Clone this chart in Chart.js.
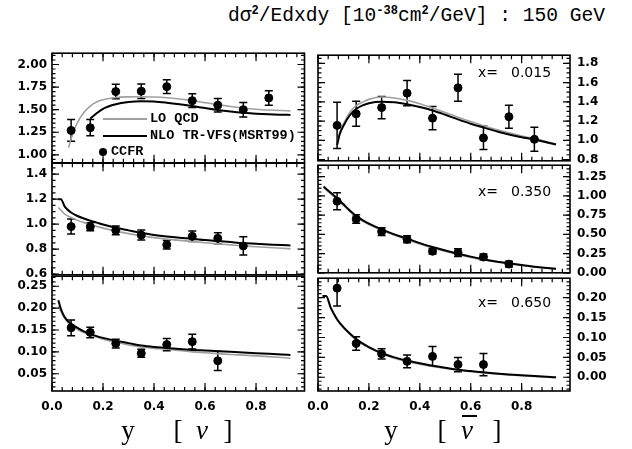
<!DOCTYPE html>
<html>
<head>
<meta charset="utf-8">
<script src="https://cdn.jsdelivr.net/npm/chart.js@4.4.0/dist/chart.umd.min.js"></script>
<style>
  body { margin: 0; width: 632px; height: 449px; background: #fff; position: relative; overflow: hidden; }
  canvas { position: absolute; }
  .txt { position: absolute; white-space: pre; color: #000; }
  #title { left: 228px; top: 5px; font: 19.6px "Liberation Mono", monospace; }
  #title sup { font-size: 12px; font-weight: bold; vertical-align: 7px; line-height: 0; }
  .xlab { font: 14px "DejaVu Sans", sans-serif; line-height: 16px; }
  .leg { font: bold 13.5px "Liberation Mono", monospace; line-height: 16px; }
  .ax { font: 27px "Liberation Serif", "Times New Roman", serif; line-height: 27px; transform: translateX(-50%); }
  .swatch { position: absolute; }
</style>
</head>
<body>
<div id="title" class="txt">dσ<sup>2</sup>/Edxdy [10<sup>-38</sup>cm<sup>2</sup>/GeV] : 150 GeV</div>

<script>
// y bin centres of the CCFR points
const yBins = [0.075, 0.15, 0.25, 0.35, 0.45, 0.55, 0.65, 0.75, 0.85];
const xLabels = ["0.015", "0.350", "0.650"];

// neutrino, x = 0.015
const nu015Val = [1.27, 1.30, 1.70, 1.705, 1.755, 1.60, 1.55, 1.50, 1.63];
const nu015Err = [0.12, 0.09, 0.08, 0.08, 0.075, 0.077, 0.075, 0.08, 0.08];
// antineutrino, x = 0.015
const nb015Val = [1.155, 1.275, 1.34, 1.49, 1.23, 1.545, 1.025, 1.245, 1.01];
const nb015Err = [0.24, 0.13, 0.115, 0.13, 0.12, 0.14, 0.12, 0.12, 0.125];
// neutrino, x = 0.350
const nu350Val = [0.98, 0.978, 0.95, 0.912, 0.835, 0.902, 0.886, 0.825];
const nu350Err = [0.06, 0.032, 0.035, 0.04, 0.035, 0.042, 0.044, 0.073];
// antineutrino, x = 0.350
const nb350Val = [0.93, 0.70, 0.535, 0.435, 0.28, 0.262, 0.205, 0.113];
const nb350Err = [0.11, 0.055, 0.05, 0.045, 0.035, 0.05, 0.04, 0.037];
// neutrino, x = 0.650
const nu650Val = [0.155, 0.1445, 0.119, 0.0968, 0.1166, 0.1234, 0.0795];
const nu650Err = [0.018, 0.012, 0.01, 0.009, 0.014, 0.017, 0.022];
// antineutrino, x = 0.650
const nb650Val = [0.224, 0.085, 0.059, 0.040, 0.0525, 0.032, 0.032];
const nb650Err = [0.045, 0.017, 0.013, 0.016, 0.025, 0.018, 0.028];

// theory curves (LO QCD grey, NLO TR-VFS black)
const tailY = [0.15, 0.175, 0.2, 0.25, 0.3, 0.35, 0.4, 0.45, 0.5, 0.55, 0.6, 0.65, 0.7, 0.75, 0.8, 0.85, 0.9, 0.935];

const nu015LoX = [0.065, 0.08, 0.1, 0.125, ...tailY];
const nu015Lo = [1.08, 1.22, 1.36, 1.47, 1.54, 1.585, 1.61, 1.635, 1.642, 1.643, 1.64, 1.632, 1.618, 1.60, 1.578, 1.556, 1.535, 1.518, 1.505, 1.496, 1.49, 1.487];
const nu015NloX = tailY;
const nu015Nlo = [1.40, 1.46, 1.51, 1.56, 1.584, 1.593, 1.59, 1.577, 1.56, 1.54, 1.518, 1.497, 1.48, 1.466, 1.455, 1.448, 1.444, 1.442];

const nb015X = [0.075, 0.085, 0.1, 0.125, ...tailY];
const nb015Lo = [0.95, 1.08, 1.17, 1.29, 1.36, 1.395, 1.425, 1.45, 1.44, 1.415, 1.38, 1.335, 1.29, 1.24, 1.195, 1.152, 1.112, 1.077, 1.045, 1.018, 0.985, 0.962];
const nb015Nlo = [0.95, 1.06, 1.15, 1.26, 1.325, 1.362, 1.385, 1.40, 1.395, 1.374, 1.345, 1.31, 1.265, 1.217, 1.172, 1.133, 1.095, 1.06, 1.032, 1.008, 0.978, 0.957];

const nu350NloX = [0.025, 0.035, 0.05, 0.075, 0.1, 0.125, ...tailY];
const nu350Nlo = [1.20, 1.20, 1.14, 1.093, 1.065, 1.045, 1.027, 1.012, 0.997, 0.971, 0.95, 0.93, 0.913, 0.90, 0.89, 0.882, 0.872, 0.864, 0.856, 0.848, 0.842, 0.837, 0.832, 0.829];
const nu350LoX = [0.025, 0.05, 0.075, 0.1, 0.125, ...tailY];
const nu350Lo = [1.133, 1.08, 1.053, 1.03, 1.012, 0.997, 0.982, 0.968, 0.944, 0.924, 0.906, 0.892, 0.88, 0.87, 0.861, 0.851, 0.842, 0.834, 0.826, 0.819, 0.813, 0.807, 0.802];

const nb350X = [0.022, 0.05, 0.075, 0.1, 0.125, ...tailY];
const nb350Nlo = [1.12, 1.04, 0.97, 0.89, 0.81, 0.74, 0.685, 0.64, 0.565, 0.50, 0.445, 0.385, 0.335, 0.29, 0.248, 0.21, 0.177, 0.148, 0.123, 0.10, 0.08, 0.063, 0.053];
const nb350Lo = [1.11, 1.025, 0.955, 0.875, 0.795, 0.725, 0.672, 0.627, 0.552, 0.488, 0.432, 0.373, 0.323, 0.28, 0.238, 0.2, 0.168, 0.14, 0.116, 0.094, 0.075, 0.059, 0.05];

const nu650X = [0.025, 0.035, 0.05, 0.075, 0.1, 0.125, ...tailY];
const nu650Nlo = [0.218, 0.198, 0.179, 0.164, 0.155, 0.147, 0.141, 0.136, 0.132, 0.1257, 0.12, 0.1143, 0.111, 0.109, 0.1065, 0.1045, 0.103, 0.1014, 0.100, 0.0985, 0.097, 0.0955, 0.094, 0.093];
const nu650Lo = [0.205, 0.192, 0.176, 0.16, 0.151, 0.144, 0.139, 0.134, 0.129, 0.122, 0.116, 0.111, 0.108, 0.106, 0.103, 0.1, 0.098, 0.096, 0.094, 0.0925, 0.0908, 0.089, 0.087, 0.0855];

const nb650X = [0.018, 0.032, 0.05, 0.075, 0.1, 0.125, ...tailY];
const nb650Nlo = [0.204, 0.204, 0.175, 0.146, 0.126, 0.11, 0.096, 0.085, 0.076, 0.061, 0.05, 0.042, 0.035, 0.029, 0.024, 0.019, 0.0155, 0.0125, 0.0095, 0.007, 0.0048, 0.003, 0.0012, 0.0];
const nb650Lo = [0.204, 0.204, 0.173, 0.144, 0.124, 0.108, 0.094, 0.083, 0.074, 0.059, 0.048, 0.04, 0.033, 0.027, 0.022, 0.0175, 0.014, 0.011, 0.0083, 0.006, 0.004, 0.0023, 0.0006, -0.0006];

const pairs = (xs, ys) => ys.map((v, i) => ({ x: xs[i], y: v }));

// frame, inward ticks on all sides and error bars
const framePlugin = {
  id: "frame",
  beforeDatasetsDraw(chart) {
    const { ctx, chartArea: a, scales: { x, y } } = chart;
    ctx.save();
    ctx.beginPath();
    ctx.rect(a.left, a.top, a.width, a.height);
    ctx.clip();
    ctx.strokeStyle = "#000";
    ctx.lineWidth = 1.5;
    chart.data.datasets.forEach(ds => {
      if (!ds.errors) return;
      ds.data.forEach((p, i) => {
        const px = x.getPixelForValue(p.x);
        const hi = y.getPixelForValue(p.y + ds.errors[i]);
        const lo = y.getPixelForValue(p.y - ds.errors[i]);
        ctx.beginPath();
        ctx.moveTo(px, hi); ctx.lineTo(px, lo);
        ctx.moveTo(px - 4, hi); ctx.lineTo(px + 4, hi);
        ctx.moveTo(px - 4, lo); ctx.lineTo(px + 4, lo);
        ctx.stroke();
      });
    });
    ctx.restore();
  },
  afterDraw(chart, args, opts) {
    const { ctx, chartArea: a, scales: { x, y } } = chart;
    ctx.save();
    ctx.strokeStyle = "#000";
    ctx.lineWidth = 1.2;
    const marks = (scale, step, len, horiz) => {
      const n0 = Math.ceil(scale.min / step - 1e-6);
      const n1 = Math.floor(scale.max / step + 1e-6);
      ctx.beginPath();
      for (let n = n0; n <= n1; n++) {
        const p = scale.getPixelForValue(n * step);
        if (horiz) {
          ctx.moveTo(p, a.bottom); ctx.lineTo(p, a.bottom - len);
          ctx.moveTo(p, a.top); ctx.lineTo(p, a.top + len);
        } else {
          ctx.moveTo(a.left, p); ctx.lineTo(a.left + len, p);
          ctx.moveTo(a.right, p); ctx.lineTo(a.right - len, p);
        }
      }
      ctx.stroke();
    };
    marks(x, 0.04, 4, true);
    marks(x, 0.2, 8, true);
    marks(y, opts.yMinor, 3.5, false);
    marks(y, opts.yMajor, 7, false);
    ctx.lineWidth = 1.6;
    ctx.strokeRect(a.left, a.top, a.width, a.height);
    ctx.restore();
  }
};

const rowTop = [53, 163, 275.5];
const rowBottom = [163, 275.5, 390.5];

function makePanel(o) {
  const bottomRow = o.row === 2;
  const left = o.side === "left";
  const cv = document.createElement("canvas");
  const padT = 12;
  const xAxisH = bottomRow ? 30 : 0;
  const padB = bottomRow ? 4 : 12;
  const frameL = left ? 52 : 318;
  const frameR = left ? 304.5 : 570;
  const canvasL = left ? 0 : 290;
  const w = left ? 316 : 330;
  const h = rowBottom[o.row] - rowTop[o.row] + padT + padB + xAxisH;
  cv.width = w; cv.height = h;
  cv.style.left = canvasL + "px";
  cv.style.top = (rowTop[o.row] - padT) + "px";
  document.body.appendChild(cv);

  const tickFont = { family: "DejaVu Sans", size: 12, weight: "bold" };
  new Chart(cv, {
    type: "line",
    data: {
      datasets: [
        { label: "CCFR", data: pairs(yBins, o.val), errors: o.err, showLine: false,
          pointRadius: 4, pointBackgroundColor: "#000", pointBorderColor: "#000", clip: 0 },
        { label: "NLO TR-VFS(MSRT99)", data: pairs(o.nloX, o.nlo), borderColor: "#000", borderWidth: 2,
          pointRadius: 0, cubicInterpolationMode: "monotone", clip: 0 },
        { label: "LO QCD", data: pairs(o.loX, o.lo), borderColor: "#a0a0a0", borderWidth: 1.6,
          pointRadius: 0, cubicInterpolationMode: "monotone", clip: 0 }
      ]
    },
    options: {
      responsive: false,
      animation: false,
      devicePixelRatio: 1,
      layout: { padding: { left: left ? 0 : frameL - canvasL, right: left ? w - frameR : 0, top: padT, bottom: padB } },
      plugins: {
        legend: { display: false },
        tooltip: { enabled: false },
        frame: { yMajor: o.yMajor, yMinor: o.yMinor }
      },
      scales: {
        x: {
          type: "linear", min: 0, max: 0.99, display: bottomRow,
          ticks: { stepSize: 0.2, includeBounds: false, color: "#000", font: tickFont, padding: 9,
                   maxRotation: 0, callback: v => v.toFixed(1) },
          grid: { display: false, drawTicks: false }, border: { display: false },
          afterFit: s => { s.height = xAxisH; }
        },
        y: {
          type: "linear", position: o.side, min: o.yMin, max: o.yMax,
          ticks: { stepSize: o.yMajor, includeBounds: false, color: "#000", font: tickFont,
                   padding: left ? 5 : 7, callback: v => v.toFixed(o.dec) },
          grid: { display: false, drawTicks: false }, border: { display: false },
          afterFit: s => { s.width = left ? frameL : w - (frameR - canvasL); }
        }
      }
    },
    plugins: [framePlugin]
  });
}

makePanel({ side: "left", row: 0, yMin: 0.912, yMax: 2.125, yMajor: 0.25, yMinor: 0.05, dec: 2,
  val: nu015Val, err: nu015Err, loX: nu015LoX, lo: nu015Lo, nloX: nu015NloX, nlo: nu015Nlo });
makePanel({ side: "left", row: 1, yMin: 0.594, yMax: 1.488, yMajor: 0.2, yMinor: 0.05, dec: 1,
  val: nu350Val, err: nu350Err, loX: nu350LoX, lo: nu350Lo, nloX: nu350NloX, nlo: nu350Nlo });
makePanel({ side: "left", row: 2, yMin: 0.0105, yMax: 0.273, yMajor: 0.05, yMinor: 0.01, dec: 2,
  val: nu650Val, err: nu650Err, loX: nu650X, lo: nu650Lo, nloX: nu650X, nlo: nu650Nlo });
makePanel({ side: "right", row: 0, yMin: 0.787, yMax: 1.884, yMajor: 0.2, yMinor: 0.05, dec: 1,
  val: nb015Val, err: nb015Err, loX: nb015X, lo: nb015Lo, nloX: nb015X, nlo: nb015Nlo });
makePanel({ side: "right", row: 1, yMin: 0.0, yMax: 1.398, yMajor: 0.25, yMinor: 0.05, dec: 2,
  val: nb350Val, err: nb350Err, loX: nb350X, lo: nb350Lo, nloX: nb350X, nlo: nb350Nlo });
makePanel({ side: "right", row: 2, yMin: -0.0345, yMax: 0.249, yMajor: 0.05, yMinor: 0.01, dec: 2,
  val: nb650Val, err: nb650Err, loX: nb650X, lo: nb650Lo, nloX: nb650X, nlo: nb650Nlo });

// text overlays: x labels, legend, axis titles
function addText(cls, html, x, y) {
  const d = document.createElement("div");
  d.className = "txt " + cls;
  d.innerHTML = html;
  d.style.left = x + "px";
  d.style.top = y + "px";
  document.body.appendChild(d);
  return d;
}
const xLabelTop = [64, 183, 294];
xLabels.forEach((s, i) => addText("xlab", 'x=<span style="margin-left:13px">' + s + "</span>", 478, xLabelTop[i]));

function addSwatch(x, y, w, h, color, radius) {
  const d = document.createElement("div");
  d.className = "swatch";
  Object.assign(d.style, { left: x + "px", top: y + "px", width: w + "px", height: h + "px",
    background: color, borderRadius: radius || 0 });
  document.body.appendChild(d);
}
addSwatch(103, 118, 44, 2, "#a0a0a0");
addText("leg", "LO QCD", 150, 111);
addSwatch(103, 134.5, 44, 2.5, "#000");
addText("leg", "NLO TR-VFS(MSRT99)", 150, 128);
addSwatch(99, 148, 8, 8, "#000", "50%");
addText("leg", "CCFR", 111, 144);

addText("ax", "y", 128, 417);
addText("ax", "[", 178, 417);
addText("ax", '<i>ν</i>', 202, 417);
addText("ax", "]", 228, 417);
addText("ax", "y", 391, 417);
addText("ax", "[", 442, 417);
addText("ax", '<i>ν</i>', 467, 417);
addSwatch(462, 415, 15, 1.5, "#000");
addText("ax", "]", 497, 417);
</script>
</body>
</html>
